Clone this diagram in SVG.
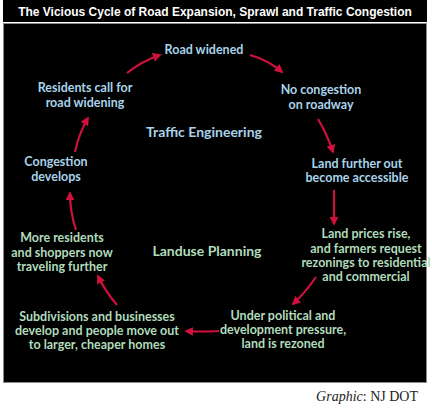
<svg xmlns="http://www.w3.org/2000/svg" width="432" height="411" viewBox="0 0 432 411">
<defs>
<style>
.t{font-family:Lato,"Open Sans","Liberation Sans",sans-serif;font-weight:bold;font-size:12.5px;text-anchor:middle}
.b{fill:#a9d3ea}
.g{fill:#b0dcbc}
.h{font-size:14px}
.c{fill:none;stroke:#d1103c;stroke-width:2.2}
</style>
<marker id="ah" viewBox="0 0 10 10" refX="8" refY="5" markerWidth="4" markerHeight="4" orient="auto" markerUnits="strokeWidth">
<path d="M0,0 L10,5 L0,10 z" fill="#d1103c"/>
</marker>
</defs>
<rect x="0" y="0" width="432" height="411" fill="#fff"/>
<rect x="3" y="0" width="424" height="22" fill="#000"/>
<text transform="translate(215,16) scale(1,1.12)" x="0" y="0" font-family="'Liberation Sans',Arial,sans-serif" font-weight="bold" font-size="12" fill="#fff" text-anchor="middle">The Vicious Cycle of Road Expansion, Sprawl and Traffic Congestion</text>
<rect x="3.5" y="23.5" width="423" height="359" fill="#000" stroke="#8a8a8a" stroke-width="1"/>
<text x="418" y="401" font-family="'Liberation Serif','Times New Roman',serif" font-size="14" fill="#222" text-anchor="end"><tspan font-style="italic">Graphic</tspan>: NJ DOT</text>

<g id="connectors">
<path class="c" d="M250,55 Q268,60 282,72" marker-end="url(#ah)"/>
<path class="c" d="M318,119 Q327,134 333,152" marker-end="url(#ah)"/>
<path class="c" d="M334,190 L334,224" marker-end="url(#ah)"/>
<path class="c" d="M316,277 Q305,293 293,304" marker-end="url(#ah)"/>
<path class="c" d="M219,331 Q202,332 186,331" marker-end="url(#ah)"/>
<path class="c" d="M117,305 Q105,291 98,276" marker-end="url(#ah)"/>
<path class="c" d="M76,230 Q70,212 70,193" marker-end="url(#ah)"/>
<path class="c" d="M75,152 Q79,133 88,118" marker-end="url(#ah)"/>
<path class="c" d="M127,73 Q142,61 160,55" marker-end="url(#ah)"/>
</g>

<g id="road-widened"><text class="t b" x="204" y="54">Road widened</text></g>
<g id="no-congestion"><text class="t b" x="321" y="94">No congestion</text><text class="t b" x="321" y="109">on roadway</text></g>
<g id="land-accessible"><text class="t b" x="357" y="168">Land further out</text><text class="t b" x="357" y="182">become accessible</text></g>
<g id="land-prices"><text class="t g" x="366" y="238">Land prices rise,</text><text class="t g" x="366" y="253">and farmers request</text><text class="t g" x="366" y="267">rezonings to residential</text><text class="t g" x="366" y="281">and commercial</text></g>
<g id="rezoned"><text class="t g" x="283" y="320">Under political and</text><text class="t g" x="283" y="334">development pressure,</text><text class="t g" x="283" y="348">land is rezoned</text></g>
<g id="subdivisions"><text class="t g" x="97" y="321">Subdivisions and businesses</text><text class="t g" x="97" y="335">develop and people move out</text><text class="t g" x="97" y="349">to larger, cheaper homes</text></g>
<g id="more-residents"><text class="t g" x="62" y="242">More residents</text><text class="t g" x="62" y="257">and shoppers now</text><text class="t g" x="62" y="271">traveling further</text></g>
<g id="congestion"><text class="t b" x="56" y="166">Congestion</text><text class="t b" x="56" y="181">develops</text></g>
<g id="residents-call"><text class="t b" x="85" y="92">Residents call for</text><text class="t b" x="85" y="107">road widening</text></g>
<g id="traffic-engineering"><text class="t b h" x="204" y="137">Traffic Engineering</text></g>
<g id="landuse-planning"><text class="t g h" x="207" y="256">Landuse Planning</text></g>
</svg>
